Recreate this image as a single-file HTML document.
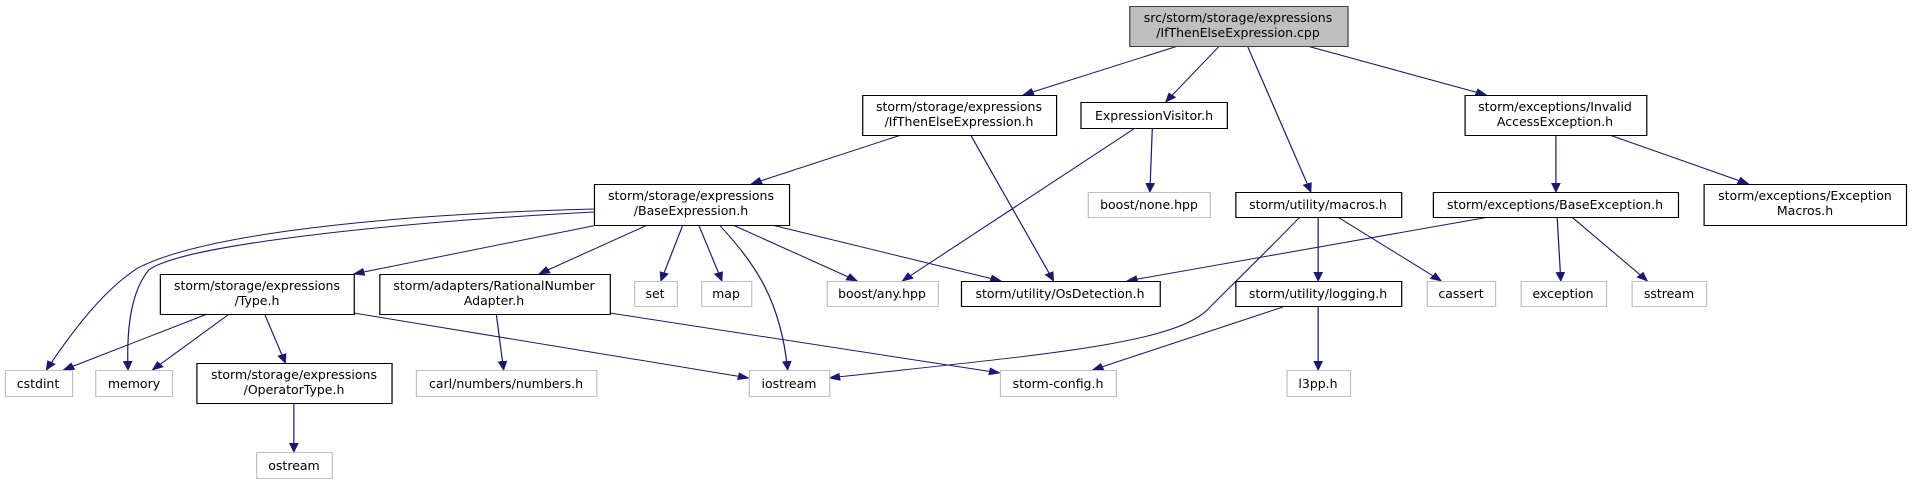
<!DOCTYPE html>
<html><head><meta charset="utf-8"><style>
html,body{margin:0;padding:0;background:#fff;width:1912px;height:484px;overflow:hidden}
svg{position:absolute;left:0;top:0}
text{font-family:"DejaVu Sans","Liberation Sans",sans-serif;font-size:12.5px;fill:#000;text-anchor:middle}
</style></head><body>
<svg width="1912" height="484" viewBox="0 0 1568 484" preserveAspectRatio="none">
<defs><marker id="a" markerWidth="10" markerHeight="8" refX="9" refY="4" orient="auto" markerUnits="userSpaceOnUse"><path d="M0,0 L10,4 L0,8 z" fill="#191970"/></marker></defs>
<g fill="none" stroke="#191970" stroke-width="1" marker-end="url(#a)">
<path d="M966,46 L839,95"/>
<path d="M1000,46 L956,102"/>
<path d="M1023,46 L1075,192"/>
<path d="M1072,46 L1219,95"/>
<path d="M739,135 L616,184"/>
<path d="M796,135 L864,281"/>
<path d="M945,128 L943,192"/>
<path d="M931,128 L740,281"/>
<path d="M1276,135 L1276,192"/>
<path d="M1320,135 L1434,184"/>
<path d="M487,209 C330,214 170,232 113,268 C85,290 60,330 38,370"/>
<path d="M487,212 C330,222 150,244 122,270 C105,295 104,340 105,370"/>
<path d="M490,225 L290,274"/>
<path d="M531,225 L442,274"/>
<path d="M560,225 L542,281"/>
<path d="M573,225 L592,281"/>
<path d="M590,225 C620,265 640,300 646,370"/>
<path d="M601,225 L703,281"/>
<path d="M633,225 L821,281"/>
<path d="M170,314 L52,370"/>
<path d="M188,314 L125,370"/>
<path d="M217,314 L234,363"/>
<path d="M290,313 L614,378"/>
<path d="M407,314 L413,370"/>
<path d="M500,313 L820,373"/>
<path d="M241,403 L241,452"/>
<path d="M1066,217 C1040,250 1010,285 990,310 C960,345 850,355 680,378"/>
<path d="M1081,217 L1081,281"/>
<path d="M1097,217 L1182,281"/>
<path d="M1221,217 L924,281"/>
<path d="M1277,217 L1280,281"/>
<path d="M1289,217 L1351,281"/>
<path d="M1052,307 L896,370"/>
<path d="M1081,307 L1081,370"/>
</g>
<g stroke-width="1">
<rect x="926.5" y="6.5" width="179" height="40" fill="#bfbfbf" stroke="#404040"/>
<g fill="#fff" stroke="#000">
<rect x="707.5" y="95.5" width="159" height="40"/>
<rect x="886.5" y="102.5" width="120" height="26"/>
<rect x="1201.5" y="95.5" width="149" height="40"/>
<rect x="487.5" y="184.5" width="160" height="41"/>
<rect x="1013.5" y="192.5" width="136" height="25"/>
<rect x="1175.5" y="192.5" width="201" height="25"/>
<rect x="1397.5" y="184.5" width="166" height="41"/>
<rect x="131.5" y="274.5" width="159" height="40"/>
<rect x="311.5" y="274.5" width="189" height="40"/>
<rect x="788.5" y="281.5" width="163" height="25"/>
<rect x="1013.5" y="281.5" width="136" height="25"/>
<rect x="161.5" y="363.5" width="160" height="40"/>
</g>
<g fill="#fff" stroke="#bfbfbf">
<rect x="892.5" y="192.5" width="100" height="25"/>
<rect x="520.5" y="281.5" width="35" height="25"/>
<rect x="575.5" y="281.5" width="41" height="25"/>
<rect x="678.5" y="281.5" width="91" height="25"/>
<rect x="1170.5" y="281.5" width="56" height="25"/>
<rect x="1247.5" y="281.5" width="70" height="25"/>
<rect x="1338.5" y="281.5" width="61" height="25"/>
<rect x="4.5" y="370.5" width="55" height="26"/>
<rect x="78.5" y="370.5" width="63" height="26"/>
<rect x="341.5" y="370.5" width="148" height="26"/>
<rect x="614.5" y="370.5" width="66" height="26"/>
<rect x="820.5" y="370.5" width="95" height="26"/>
<rect x="1055.5" y="370.5" width="52" height="26"/>
<rect x="210.5" y="452.5" width="62" height="26"/>
</g></g>
</svg>
<svg width="1912" height="484" viewBox="0 0 1912 484">
<text x="1238" y="22">src/storm/storage/expressions</text><text x="1238" y="37">/IfThenElseExpression.cpp</text>
<text x="959" y="111">storm/storage/expressions</text><text x="959" y="126">/IfThenElseExpression.h</text>
<text x="1154" y="120">ExpressionVisitor.h</text>
<text x="1555" y="111">storm/exceptions/Invalid</text><text x="1555" y="126">AccessException.h</text>
<text x="691" y="200">storm/storage/expressions</text><text x="691" y="215">/BaseExpression.h</text>
<text x="1149" y="209">boost/none.hpp</text>
<text x="1318" y="209">storm/utility/macros.h</text>
<text x="1555" y="209">storm/exceptions/BaseException.h</text>
<text x="1805" y="200">storm/exceptions/Exception</text><text x="1805" y="215">Macros.h</text>
<text x="257" y="290">storm/storage/expressions</text><text x="257" y="305">/Type.h</text>
<text x="494" y="290">storm/adapters/RationalNumber</text><text x="494" y="305">Adapter.h</text>
<text x="655" y="298">set</text>
<text x="726" y="298">map</text>
<text x="882" y="298">boost/any.hpp</text>
<text x="1060" y="298">storm/utility/OsDetection.h</text>
<text x="1318" y="298">storm/utility/logging.h</text>
<text x="1461" y="298">cassert</text>
<text x="1563" y="298">exception</text>
<text x="1669" y="298">sstream</text>
<text x="38" y="388">cstdint</text>
<text x="134" y="388">memory</text>
<text x="294" y="379">storm/storage/expressions</text><text x="294" y="394">/OperatorType.h</text>
<text x="506" y="388">carl/numbers/numbers.h</text>
<text x="789" y="388">iostream</text>
<text x="1058" y="388">storm-config.h</text>
<text x="1318" y="388">l3pp.h</text>
<text x="294" y="470">ostream</text>
</svg>
</body></html>
